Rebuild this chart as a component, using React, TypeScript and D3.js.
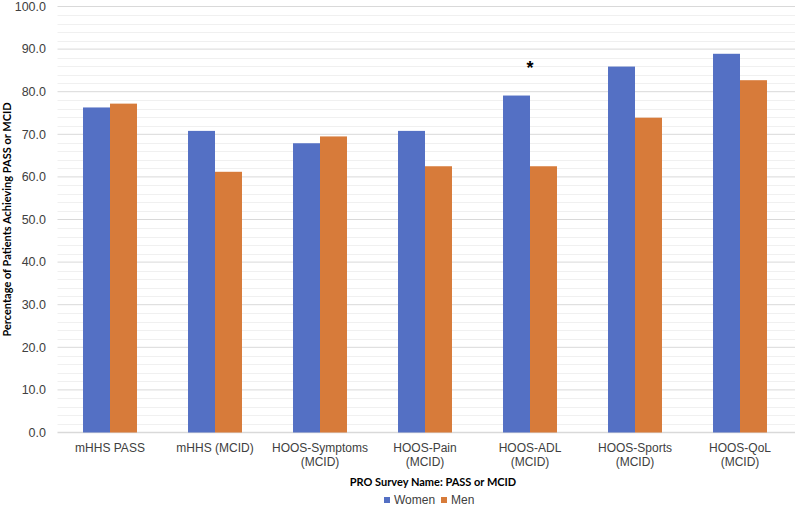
import React from "react";
import * as d3 from "d3";

const categories = [
  ["mHHS PASS"],
  ["mHHS (MCID)"],
  ["HOOS-Symptoms", "(MCID)"],
  ["HOOS-Pain", "(MCID)"],
  ["HOOS-ADL", "(MCID)"],
  ["HOOS-Sports", "(MCID)"],
  ["HOOS-QoL", "(MCID)"],
];
const women = [76.3, 70.8, 67.9, 70.8, 79.1, 85.9, 88.9];
const men = [77.2, 61.2, 69.5, 62.5, 62.5, 73.9, 82.7];
const seriesNames = ["Women", "Men"];
const colors = ["#5470C4", "#D77B3A"];
const majorTicks = d3.range(0, 101, 10);
const minorTicks = d3.range(0, 101, 2).filter((v) => v % 10 !== 0);
const significant = [4];

const W = 795;
const H = 506;
const left = 57.5;
const right = 792.5;
const top = 6.5;
const bottom = 432.5;

export default function App() {
  const x = d3
    .scaleBand<number>()
    .domain(categories.map((_, i) => i))
    .range([left, right])
    .paddingInner(0.486)
    .paddingOuter(0.243);
  const y = d3.scaleLinear().domain([0, 100]).range([bottom, top]);
  const bw = x.bandwidth() / 2;
  const series = [women, men];
  const font = "'Liberation Sans', Arial, sans-serif";
  const bold = "Lato, 'Open Sans', sans-serif";
  return (
    <svg
      width={W}
      height={H}
      style={{ position: "absolute", left: 0, top: 0, background: "#fff" }}
    >
      {minorTicks.map((t) => (
        <line key={"m" + t} x1={left} x2={W} y1={Math.round(y(t)) + 0.5} y2={Math.round(y(t)) + 0.5} stroke="#f0f0f0" strokeWidth={1} />
      ))}
      {majorTicks.map((t) => (
        <line key={"M" + t} x1={left} x2={W} y1={y(t)} y2={y(t)} stroke="#d9d9d9" strokeWidth={t === 0 ? 1.5 : 1} />
      ))}
      {majorTicks.map((t) => (
        <text key={"l" + t} x={46} y={y(t)} dy="0.35em" textAnchor="end" fontFamily={font} fontSize={12.5} fill="#404040">
          {t.toFixed(1)}
        </text>
      ))}
      {series.map((vals, s) =>
        vals.map((v, i) => (
          <rect
            key={s + "-" + i}
            x={(x(i) as number) + s * bw}
            y={y(v)}
            width={bw}
            height={y(0) - y(v)}
            fill={colors[s]}
          />
        ))
      )}
      {significant.map((i) => (
        <text key={"s" + i} x={(x(i) as number) + x.bandwidth() / 2} y={y(women[i]) - 22} textAnchor="middle" fontFamily={font} fontWeight="bold" fontSize={18} fill="#000">
          *
        </text>
      ))}
      {categories.map((lines, i) => (
        <text key={"c" + i} textAnchor="middle" fontFamily={font} fontSize={12} fill="#404040">
          {lines.map((ln, j) => (
            <tspan key={j} x={(x(i) as number) + x.bandwidth() / 2} y={452 + j * 14}>
              {ln}
            </tspan>
          ))}
        </text>
      ))}
      <text
        transform={`translate(11, ${(top + bottom) / 2}) rotate(-90)`}
        textAnchor="middle"
        fontFamily={bold}
        fontWeight="bold"
        fontSize={11}
        fill="#000"
      >
        Percentage of Patients Achieving PASS or MCID
      </text>
      <text x={433} y={486} textAnchor="middle" fontFamily={bold} fontWeight="bold" fontSize={11} fill="#000">
        PRO Survey Name: PASS or MCID
      </text>
      {seriesNames.map((n, s) => {
        const lx = s === 0 ? 384 : 441;
        return (
          <g key={n}>
            <rect x={lx} y={497} width={6} height={6} fill={colors[s]} />
            <text x={lx + 10} y={500} dy="0.35em" fontFamily={font} fontSize={12} fill="#404040">
              {n}
            </text>
          </g>
        );
      })}
    </svg>
  );
}
